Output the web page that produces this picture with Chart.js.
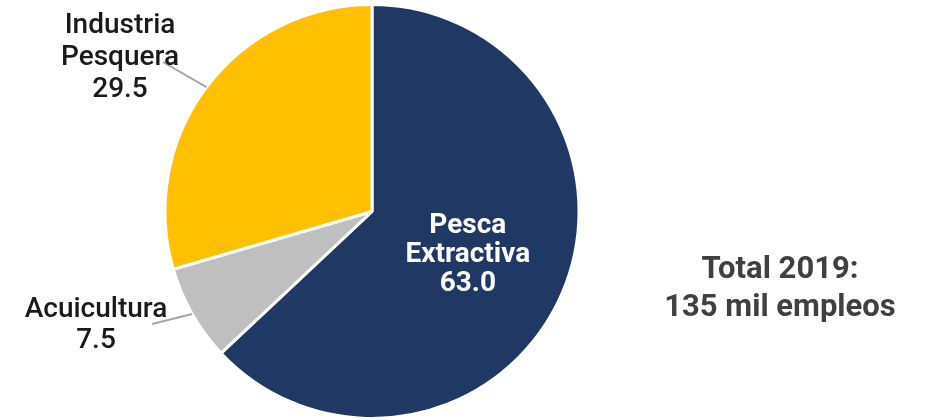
<!DOCTYPE html>
<html>
<head>
<meta charset="utf-8">
<script src="https://cdn.jsdelivr.net/npm/chart.js@4/dist/chart.umd.min.js"></script>
<style>
  html, body { margin:0; padding:0; background:#fff; }
  #wrap { width:926px; height:420px; position:relative; }
</style>
</head>
<body>
<div id="wrap"><canvas id="pie" width="926" height="420"></canvas></div>
<script>
// ── data ─────────────────────────────────────────────
const SECTORS = ['Pesca Extractiva', 'Acuicultura', 'Industria Pesquera'];
const LABEL_LINES = [['Pesca', 'Extractiva'], ['Acuicultura'], ['Industria', 'Pesquera']];
const SHARES = [63.0, 7.5, 29.5];
const COLORS = ['#203864', '#BFBFBF', '#FFC000'];
const TOTAL_TEXT = ['Total 2019:', '135 mil empleos'];

// label placement per slice (style only): inside or outside with leader line
const LABEL_STYLE = [
  { inside:true, r:0.52, dx:-3, dy:-2 },
  { inside:false, lineFrom:[152, 324], text:[96, 317], lh:31 },
  { inside:false, lineFrom:[163, 62],  text:[120, 33], lh:32 },
];

const labelsPlugin = {
  id: 'sliceLabels',
  afterDatasetsDraw(chart) {
    const ctx = chart.ctx;
    const meta = chart.getDatasetMeta(0);
    meta.data.forEach((arc, i) => {
      const p = arc.getProps(['x','y','startAngle','endAngle','outerRadius'], true);
      const mid = (p.startAngle + p.endAngle) / 2;
      const st = LABEL_STYLE[i];
      const lines = LABEL_LINES[i].concat([SHARES[i].toFixed(1)]);
      ctx.save();
      ctx.textAlign = 'center';
      ctx.textBaseline = 'alphabetic';
      if (st.inside) {
        const cx = p.x + Math.cos(mid) * p.outerRadius * st.r + st.dx;
        const cy = p.y + Math.sin(mid) * p.outerRadius * st.r + st.dy;
        ctx.fillStyle = '#ffffff';
        ctx.font = 'bold 28px Roboto';
        const lh = 29;
        const y0 = cy - lh * (lines.length - 1) / 2 + 10;
        lines.forEach((t, k) => ctx.fillText(t, cx, y0 + k * lh));
      } else {
        const ex = p.x + Math.cos(mid) * p.outerRadius;
        const ey = p.y + Math.sin(mid) * p.outerRadius;
        ctx.strokeStyle = '#A6A6A6';
        ctx.lineWidth = 2;
        ctx.beginPath();
        ctx.moveTo(st.lineFrom[0], st.lineFrom[1]);
        ctx.lineTo(ex, ey);
        ctx.stroke();
        ctx.fillStyle = '#1a1a1a';
        ctx.font = '500 28px Roboto';
        lines.forEach((t, k) => ctx.fillText(t, st.text[0], st.text[1] + k * st.lh));
      }
      ctx.restore();
    });
    // total note on the right
    ctx.save();
    ctx.textAlign = 'center';
    ctx.fillStyle = '#404040';
    ctx.font = 'bold 31px Roboto';
    TOTAL_TEXT.forEach((t, k) => ctx.fillText(t, 780, 278 + k * 38));
    ctx.restore();
  }
};

new Chart(document.getElementById('pie'), {
  type: 'pie',
  data: {
    labels: SECTORS,
    datasets: [{
      data: SHARES,
      backgroundColor: COLORS,
      borderColor: '#ffffff',
      borderWidth: 3,
    }]
  },
  options: {
    responsive: false,
    animation: false,
    layout: { padding: { left:162, right:344, top:3, bottom:0 } },
    plugins: { legend:{ display:false }, tooltip:{ enabled:false } },
  },
  plugins: [labelsPlugin],
});
</script>
</body>
</html>
